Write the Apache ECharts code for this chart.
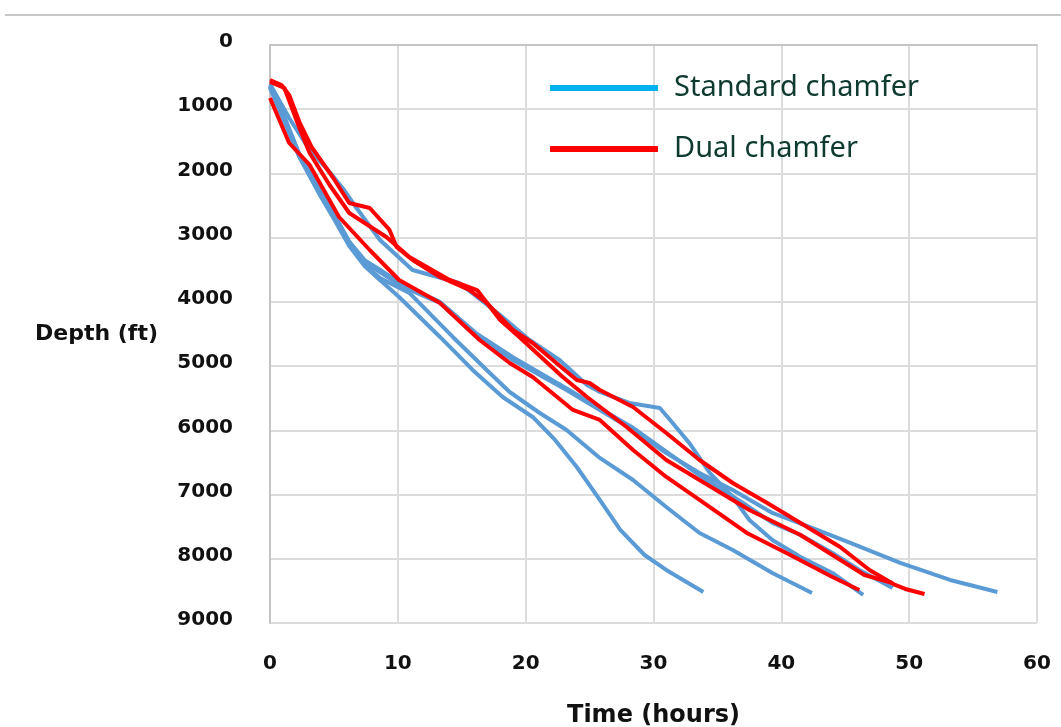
<!DOCTYPE html>
<html>
<head>
<meta charset="utf-8">
<title>Depth vs time</title>
<script src="https://cdn.jsdelivr.net/npm/echarts@6/dist/echarts.min.js"></script>
<style>
  html, body { margin: 0; padding: 0; background: #fff; }
  #chart { width: 1061px; height: 727px; }
</style>
</head>
<body>
<div id="chart"></div>
<script>
// x: time (hours), y: depth (ft)
const xTicks = [0, 10, 20, 30, 40, 50, 60]
const yTicks = [0, 1000, 2000, 3000, 4000, 5000, 6000, 7000, 8000, 9000]
const seriesNames = ['Standard chamfer', 'Dual chamfer']

// standard chamfer runs
const std1 = [[0,670],[1.13,1199],[2.3,1744],[3.9,2336],[5.05,2725],[6.2,3130],[7.4,3440],[8.6,3659],[10.1,3924],[13.3,4546],[15.85,5060],[18.2,5481],[20.55,5792],[22.3,6150],[24,6571],[25.8,7084],[27.4,7551],[29.3,7941],[31,8174],[33.9,8517]]
const std2 = [[0,638],[1.13,1168],[2.3,1744],[3.9,2305],[5.05,2694],[6.2,3110],[7.4,3420],[8.6,3628],[10.9,3861],[14.3,4546],[16.95,5060],[18.75,5403],[21.1,5730],[23.2,5994],[25.8,6430],[28.4,6773],[31,7193],[33.6,7598],[36.2,7863],[39.3,8221],[42.4,8532]]
const std3 = [[0,607],[1.5,1137],[3.1,1635],[4.66,1977],[5.8,2258],[6.6,2491],[8.6,3036],[11.15,3503],[14.8,3706],[18,4204],[20.3,4593],[22.65,4905],[24.8,5294],[25.8,5403],[28.1,5574],[30.5,5652],[31.3,5839],[32.8,6197],[34.4,6664],[36.2,7038],[37.5,7396],[39.3,7707],[41.5,7972],[44,8221],[46.4,8564]]
const std4 = [[0,640],[1.13,1120],[2.3,1700],[3.9,2270],[5.05,2650],[6.2,3060],[7.4,3350],[8.6,3500],[10.4,3740],[13.3,4000],[16.2,4500],[19,4860],[23.2,5350],[25.8,5660],[28.4,5960],[31,6330],[33.6,6700],[37,7131],[39.3,7442],[41.5,7629],[44,7910],[46.1,8174],[48.7,8455]]
const std5 = [[0,654],[1.13,1137],[2.3,1713],[3.9,2289],[5.05,2663],[6.2,3080],[7.4,3380],[8.6,3534],[10.4,3768],[13.3,4017],[16.2,4546],[19,4905],[23.2,5372],[25.8,5683],[28.4,5994],[31,6353],[33.6,6664],[36.2,6929],[39.3,7287],[42.8,7551],[45.4,7754],[49.3,8065],[53.2,8330],[56.9,8517]]

// dual chamfer runs
const dual1 = [[0,545],[0.9,623],[1.5,779],[2.3,1199],[3.25,1588],[4.9,2055],[6.2,2460],[7.8,2538],[9.35,2880],[9.9,3145],[11.15,3348],[13.3,3612],[15.6,3815],[16.95,4017],[19,4437],[20.55,4640],[22.4,4951],[24,5216],[25,5263],[25.8,5372],[28.4,5636],[31,6041],[33.6,6462],[36.2,6820],[38.9,7131],[41.5,7442],[44.6,7816],[46.9,8174],[48.9,8408],[49.7,8470],[51.2,8548]]
const dual2 = [[0,576],[1.13,670],[2.3,1292],[3.1,1682],[4.66,2180],[6.2,2616],[9.1,2989],[10.9,3301],[14.05,3659],[16.2,3815],[18,4282],[19.5,4546],[22.9,5169],[24.8,5481],[27.9,5948],[31,6462],[33.6,6773],[37.5,7240],[41.5,7629],[44,7941],[46.5,8252],[48.7,8377]]
const dual3 = [[0,825],[1.5,1526],[3.1,1868],[5.4,2678],[7.8,3192],[10.1,3659],[13.3,4017],[16.4,4593],[18.75,4951],[20.55,5169],[23.7,5683],[25.8,5839],[28.4,6306],[31,6726],[33.6,7084],[37.3,7598],[40.4,7910],[44,8283],[46.1,8486]]

const stdRuns = [std1, std2, std3, std4, std5]
const dualRuns = [dual1, dual2, dual3]

const labelFont = { fontFamily: 'DejaVu Sans', fontWeight: 'bold', fontSize: 20, color: '#111' }

const chart = echarts.init(document.getElementById('chart'))

const series = []
stdRuns.forEach(run => {
  series.push({
    name: seriesNames[0],
    type: 'line',
    data: run,
    showSymbol: false,
    lineStyle: { color: '#5b9bd5', width: 4 },
    itemStyle: { color: '#5b9bd5' }
  })
})
dualRuns.forEach(run => {
  series.push({
    name: seriesNames[1],
    type: 'line',
    data: run,
    showSymbol: false,
    lineStyle: { color: '#ff0000', width: 4 },
    itemStyle: { color: '#ff0000' }
  })
})

const option = {
  animation: false,
  backgroundColor: '#fff',
  grid: { left: 270, right: 24, top: 45, bottom: 104, containLabel: false, outerBoundsMode: 'none' },
  legend: {
    orient: 'vertical',
    left: 550,
    top: 71,
    padding: 0,
    icon: 'rect',
    itemWidth: 108,
    itemHeight: 6,
    itemGap: 27,
    textStyle: {
      fontFamily: 'Noto Sans',
      fontSize: 29,
      lineHeight: 34,
      color: '#0e3a30',
      padding: [0, 0, 0, 11]
    },
    data: [
      { name: seriesNames[0], itemStyle: { color: '#00b0f0' }, lineStyle: { color: '#00b0f0', width: 7 } },
      { name: seriesNames[1], itemStyle: { color: '#ff0000' }, lineStyle: { color: '#ff0000', width: 7 } }
    ]
  },
  xAxis: {
    type: 'value',
    min: xTicks[0],
    max: xTicks[xTicks.length - 1],
    interval: 10,
    name: 'Time (hours)',
    nameLocation: 'middle',
    nameGap: 81,
    nameTextStyle: Object.assign({}, labelFont, { fontSize: 24 }),
    axisLine: { lineStyle: { color: '#c4c4c4', width: 2 } },
    axisTick: { show: false },
    axisLabel: Object.assign({ margin: 31 }, labelFont),
    splitLine: { lineStyle: { color: '#dcdcdc', width: 2 } }
  },
  yAxis: {
    type: 'value',
    inverse: true,
    min: yTicks[0],
    max: yTicks[yTicks.length - 1],
    interval: 1000,
    name: 'Depth (ft)',
    nameLocation: 'middle',
    nameRotate: 0,
    nameGap: 112,
    nameTextStyle: Object.assign({}, labelFont, { fontSize: 22 }),
    axisLine: { show: true, lineStyle: { color: '#c4c4c4', width: 2 } },
    axisTick: { show: false },
    axisLabel: Object.assign({
      margin: 37,
      verticalAlign: 'bottom',
      lineHeight: 6,
      formatter: v => String(v)
    }, labelFont),
    splitLine: { lineStyle: { color: '#dcdcdc', width: 2 } }
  },
  graphic: [
    {
      type: 'line',
      shape: { x1: 5, y1: 15, x2: 1061, y2: 15 },
      style: { stroke: '#c8c8c8', lineWidth: 2 },
      silent: true
    }
  ],
  series: series
}

chart.setOption(option)
</script>
</body>
</html>
